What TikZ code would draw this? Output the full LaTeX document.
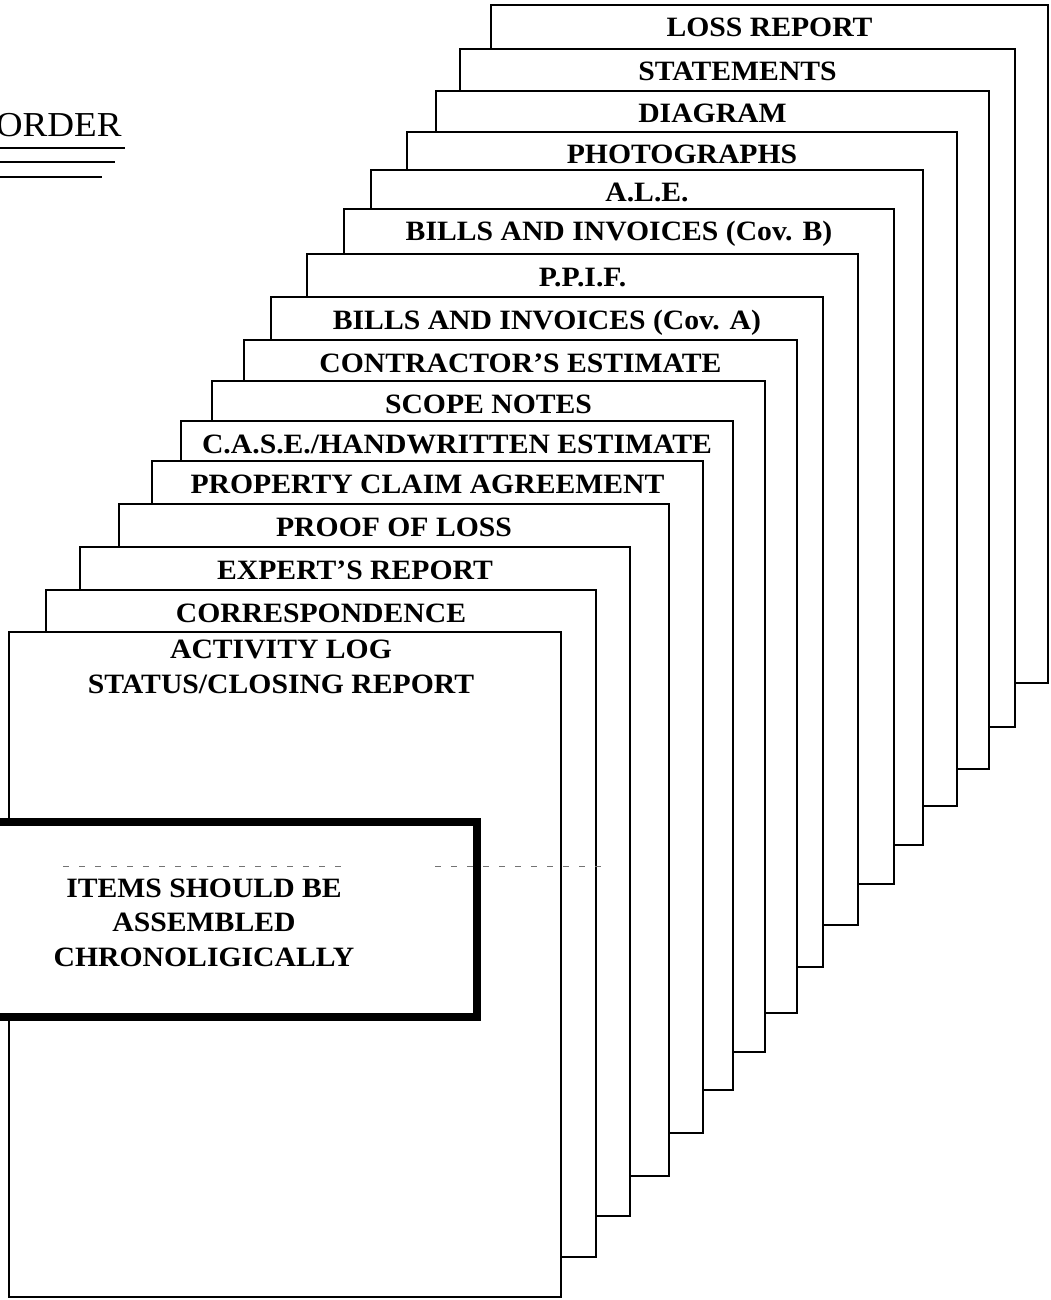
\documentclass[tikz,border=0pt]{standalone}
\usepackage{fontspec}
\setmainfont{Liberation Serif}[FakeStretch=1.06, Ligatures=TeX]
\usetikzlibrary{fit}
\tikzset{
  pagebox/.style={draw=black, fill=white, line width=0.95pt, inner sep=0pt, outer sep=0pt},
  lbl/.style={font=\fontsize{14}{16}\selectfont\bfseries, inner sep=0pt, anchor=base},
  notebox/.style={draw=black, fill=white, line width=4pt, inner sep=0pt},
  titletext/.style={font=\fontsize{17.5}{20}\selectfont, inner sep=0pt},
  ruleline/.style={line width=1pt},
  scanline/.style={black!55, line width=0.5pt, dash pattern=on 3pt off 5pt},
}
\newcommand\pg[6]{%
  \node[pagebox, fit={(#2,#3) (#4,#5)}] (#1) {};
  \node[lbl] (#1-label) at ({(#2+#4)/2},{#3+32}) {#6};
}
\begin{document}
\begin{tikzpicture}[x=0.5pt,y=-0.5pt]
\useasboundingbox (0,0) rectangle (1050,1300);
\fill[white] (0,0) rectangle (1050,1300);
\clip (0,0) rectangle (1050,1300);
% title
\node[titletext, anchor=base east] (order) at (122,137) {ORDER};
\draw[ruleline] (0,148) -- (125,148);
\draw[ruleline] (0,162) -- (115,162);
\draw[ruleline] (0,177) -- (102,177);
% pages, back to front
\pg{lossreport}{491}{5}{1048}{683}{LOSS REPORT}
\pg{statements}{460}{49}{1015}{727}{STATEMENTS}
\pg{diagram}{436}{91}{989}{769}{DIAGRAM}
\pg{photographs}{407}{132}{957}{806}{PHOTOGRAPHS}
\pg{ale}{371}{170}{923}{845}{A.L.E.}
\pg{billsb}{344}{209}{894}{884}{BILLS AND INVOICES (Cov. B)}
\pg{ppif}{307}{254}{858}{925}{P.P.I.F.}
\pg{billsa}{271}{297}{823}{967}{BILLS AND INVOICES (Cov. A)}
\pg{contractor}{244}{340}{797}{1013}{CONTRACTOR'S ESTIMATE}
\pg{scope}{212}{381}{765}{1052}{SCOPE NOTES}
\pg{case}{181}{421}{733}{1090}{C.A.S.E./HANDWRITTEN ESTIMATE}
\pg{property}{152}{461}{703}{1133}{PROPERTY CLAIM AGREEMENT}
\pg{proof}{119}{504}{669}{1176}{PROOF OF LOSS}
\pg{expert}{80}{547}{630}{1216}{EXPERT'S REPORT}
\pg{correspondence}{46}{590}{596}{1257}{CORRESPONDENCE}
\node[pagebox, fit={(9,632) (561,1297)}] (activity) {};
\node[lbl] (activity-label1) at (281,658) {ACTIVITY LOG};
\node[lbl] (activity-label2) at (281,693) {STATUS/CLOSING REPORT};
% note box
\node[notebox, fit={(-80,822) (477,1017)}] (note) {};
\node[lbl] (note-1) at (204,897) {ITEMS SHOULD BE};
\node[lbl] (note-2) at (204,931) {ASSEMBLED};
\node[lbl] (note-3) at (204,966) {CHRONOLIGICALLY};
\draw[scanline] (63,866) -- (350,866);
\draw[scanline] (435,866) -- (605,866);
\end{tikzpicture}
\end{document}
